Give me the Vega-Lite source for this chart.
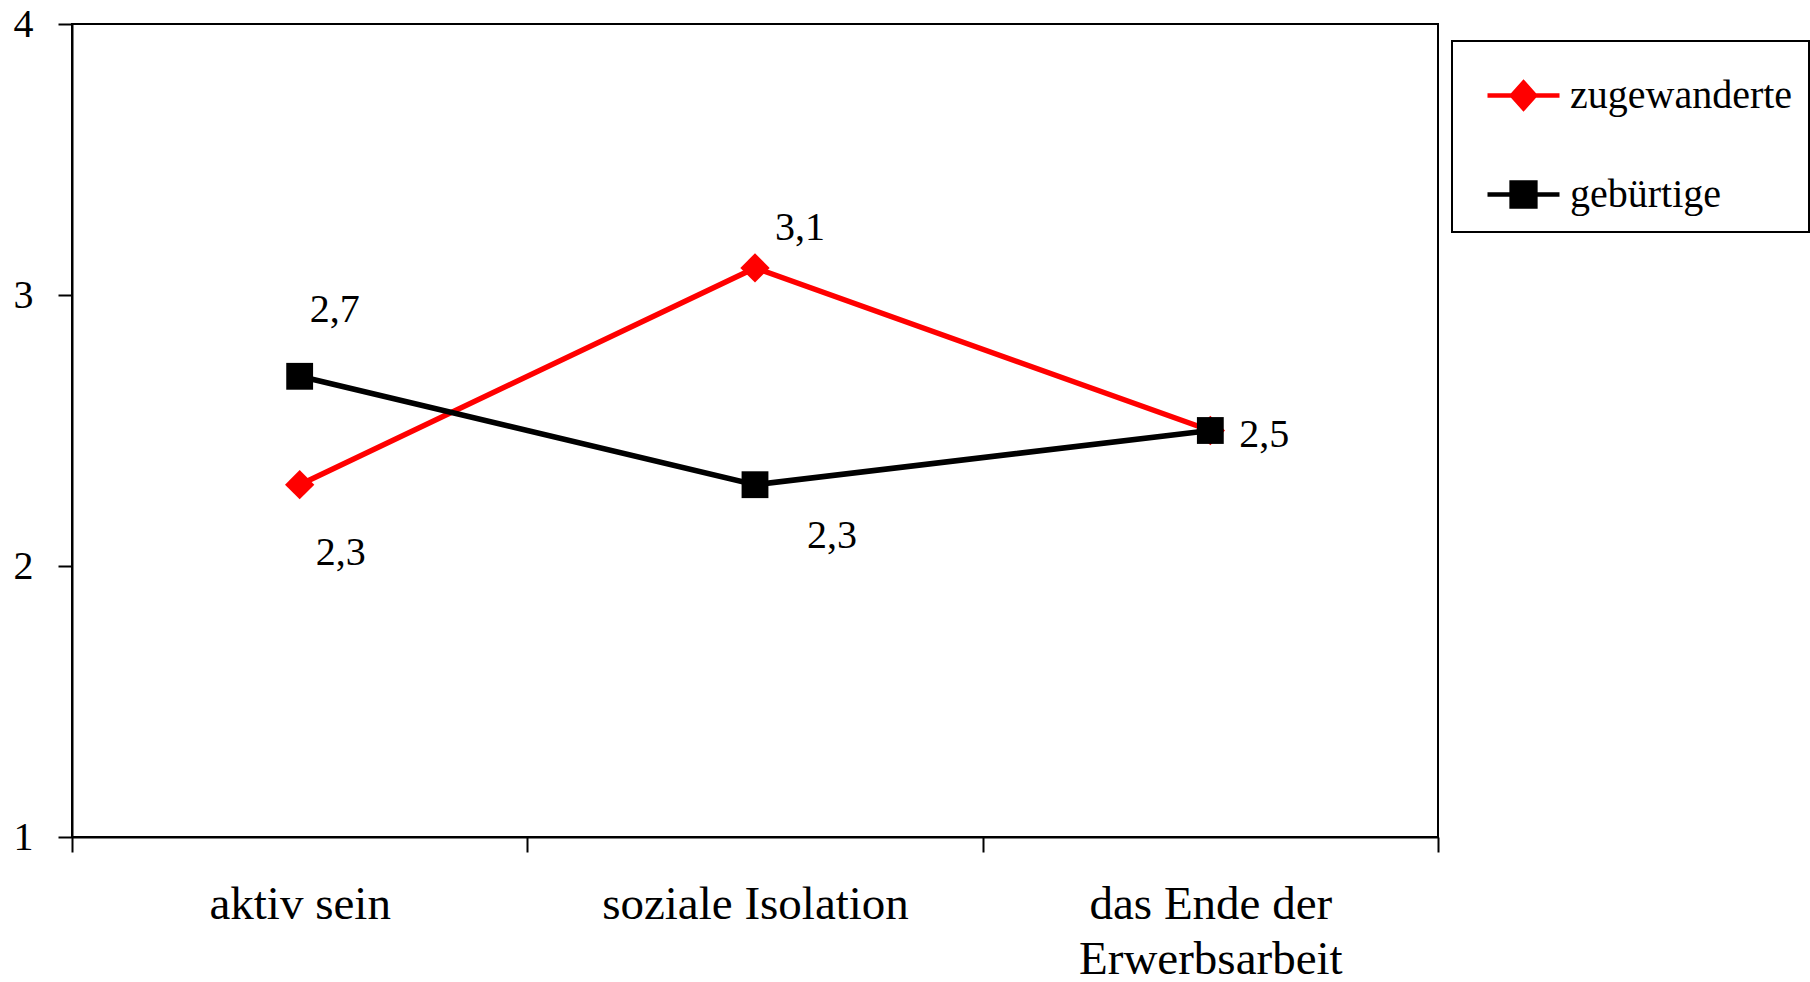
{
  "$schema": "https://vega.github.io/schema/vega-lite/v6.json",
  "width": 1366,
  "height": 813,
  "autosize": {"type": "none"},
  "padding": {"left": 72, "top": 24, "right": 372, "bottom": 145},
  "background": "white",
  "config": {
    "font": "Liberation Serif",
    "locale": {"number": {"decimal": ",", "thousands": ".", "grouping": [3], "currency": ["", " €"]}},
    "view": {"stroke": "black", "strokeWidth": 2},
    "axis": {"grid": false, "domainColor": "black", "domainWidth": 2, "tickColor": "black", "tickWidth": 2, "labelColor": "black", "labelFont": "Liberation Serif", "labelFontSize": 40}
  },
  "data": {
    "values": [
      {"category": "aktiv sein", "group": "zugewanderte", "value": 2.3},
      {"category": "soziale Isolation", "group": "zugewanderte", "value": 3.1},
      {"category": "das Ende der Erwerbsarbeit", "group": "zugewanderte", "value": 2.5},
      {"category": "aktiv sein", "group": "gebürtige", "value": 2.7},
      {"category": "soziale Isolation", "group": "gebürtige", "value": 2.3},
      {"category": "das Ende der Erwerbsarbeit", "group": "gebürtige", "value": 2.5}
    ]
  },
  "encoding": {
    "x": {
      "field": "category", "type": "nominal", "sort": null,
      "scale": {"type": "band", "paddingInner": 0, "paddingOuter": 0},
      "bandPosition": 0.5,
      "axis": {
        "title": null, "tickBand": "extent", "tickSize": 15, "labelPadding": 29, "labelAngle": 0,
        "labelFontSize": 47, "labelLimit": 1000, "labelLineHeight": 55, "labelBaseline": "top",
        "labelExpr": "datum.label == 'das Ende der Erwerbsarbeit' ? ['das Ende der', 'Erwerbsarbeit'] : datum.label"
      }
    },
    "y": {
      "field": "value", "type": "quantitative",
      "scale": {"domain": [1, 4], "nice": false, "zero": false},
      "axis": {"title": null, "values": [1, 2, 3, 4], "tickSize": 14, "labelPadding": 25, "format": "d"}
    }
  },
  "layer": [
    {
      "transform": [{"filter": "datum.group == 'zugewanderte'"}],
      "mark": {"type": "line", "strokeWidth": 5.5},
      "encoding": {
        "color": {
          "field": "group", "type": "nominal",
          "scale": {"domain": ["zugewanderte", "gebürtige"], "range": ["#ff0000", "#000000"]},
          "legend": {
            "title": null, "orient": "none", "legendX": 1380, "legendY": 17, "direction": "vertical",
            "strokeColor": "black", "padding": 16, "symbolSize": 5184, "symbolOffset": 17,
            "symbolStrokeWidth": 4, "rowPadding": 38, "labelFontSize": 40, "labelFont": "Liberation Serif",
            "labelColor": "black", "labelOffset": 8, "labelLimit": 1000,
            "encode": {
              "legend": {"update": {"strokeWidth": {"value": 2}}},
              "symbols": {
                "update": {
                  "shape": {"signal": "datum.value == 'zugewanderte' ? 'M-1,0L1,0M0,-0.36L0.32,0L0,0.36L-0.32,0Z' : 'M-1,0L1,0M-0.33,-0.33L0.33,-0.33L0.33,0.33L-0.33,0.33Z'"},
                  "fill": {"signal": "datum.value == 'zugewanderte' ? '#ff0000' : '#000000'"},
                  "stroke": {"signal": "datum.value == 'zugewanderte' ? '#ff0000' : '#000000'"},
                  "strokeWidth": {"value": 4.5},
                  "opacity": {"value": 1}
                }
              }
            }
          }
        }
      }
    },
    {
      "transform": [{"filter": "datum.group == 'zugewanderte'"}],
      "mark": {"type": "point", "shape": "diamond", "filled": true, "color": "#ff0000", "size": 860, "opacity": 1, "strokeWidth": 0}
    },
    {
      "transform": [{"filter": "datum.group == 'gebürtige'"}],
      "mark": {"type": "line", "strokeWidth": 5.5},
      "encoding": {
        "color": {"field": "group", "type": "nominal"}
      }
    },
    {
      "transform": [{"filter": "datum.group == 'gebürtige'"}],
      "mark": {"type": "point", "shape": "square", "filled": true, "color": "#000000", "size": 720, "opacity": 1, "strokeWidth": 0}
    },
    {
      "transform": [{"filter": "datum.group == 'gebürtige' && datum.category == 'aktiv sein'"}],
      "mark": {"type": "text", "fontSize": 40, "font": "Liberation Serif", "color": "black", "align": "center", "baseline": "middle", "dx": 35, "dy": -66},
      "encoding": {"text": {"field": "value", "type": "quantitative", "format": ".1f"}}
    },
    {
      "transform": [{"filter": "datum.group == 'zugewanderte' && datum.category == 'aktiv sein'"}],
      "mark": {"type": "text", "fontSize": 40, "font": "Liberation Serif", "color": "black", "align": "center", "baseline": "middle", "dx": 41, "dy": 68},
      "encoding": {"text": {"field": "value", "type": "quantitative", "format": ".1f"}}
    },
    {
      "transform": [{"filter": "datum.group == 'zugewanderte' && datum.category == 'soziale Isolation'"}],
      "mark": {"type": "text", "fontSize": 40, "font": "Liberation Serif", "color": "black", "align": "center", "baseline": "middle", "dx": 45, "dy": -40},
      "encoding": {"text": {"field": "value", "type": "quantitative", "format": ".1f"}}
    },
    {
      "transform": [{"filter": "datum.group == 'gebürtige' && datum.category == 'soziale Isolation'"}],
      "mark": {"type": "text", "fontSize": 40, "font": "Liberation Serif", "color": "black", "align": "center", "baseline": "middle", "dx": 77, "dy": 51},
      "encoding": {"text": {"field": "value", "type": "quantitative", "format": ".1f"}}
    },
    {
      "transform": [{"filter": "datum.group == 'gebürtige' && datum.category == 'das Ende der Erwerbsarbeit'"}],
      "mark": {"type": "text", "fontSize": 40, "font": "Liberation Serif", "color": "black", "align": "center", "baseline": "middle", "dx": 54, "dy": 4},
      "encoding": {"text": {"field": "value", "type": "quantitative", "format": ".1f"}}
    }
  ]
}
